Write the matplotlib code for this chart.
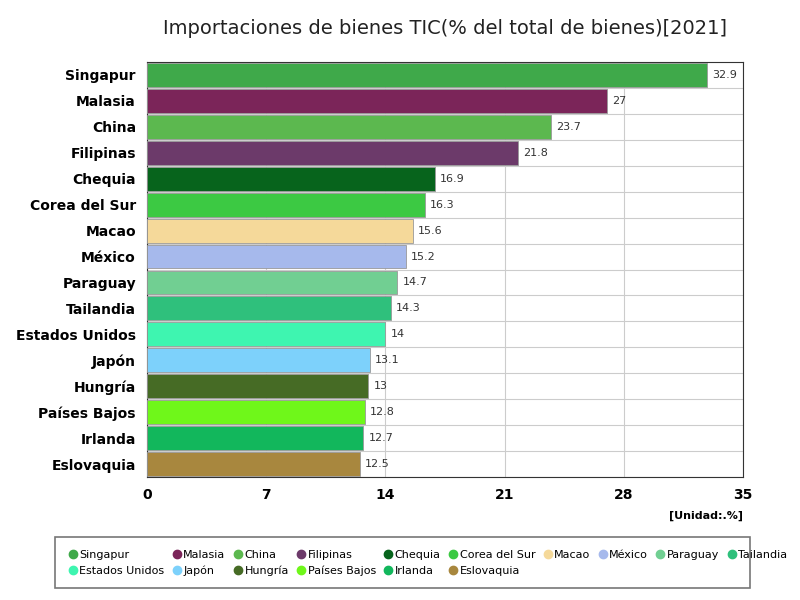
import matplotlib
matplotlib.use("Agg")
import matplotlib.pyplot as plt
from matplotlib.lines import Line2D
from matplotlib.patches import Rectangle

countries = ["Singapur","Malasia","China","Filipinas","Chequia","Corea del Sur","Macao","México",
             "Paraguay","Tailandia","Estados Unidos","Japón","Hungría","Países Bajos","Irlanda","Eslovaquia"]
values = [32.9,27,23.7,21.8,16.9,16.3,15.6,15.2,14.7,14.3,14,13.1,13,12.8,12.7,12.5]
colors = ["#3fa94a","#7b2559","#5cb84f","#6c3a6a","#07641c","#3cc943","#f5d99a","#a6b9ec",
          "#71cf92","#2fc07c","#3ef5b0","#7dd1fb","#466b25","#6ff71a","#12b75c","#a8873e"]
xticks = [0,7,14,21,28,35]

fig = plt.figure(figsize=(8,6), dpi=100)
ax = fig.add_axes([147/800, 1-477/600, (743-147)/800, (477-62)/600])
y = list(range(len(countries)))
ax.barh(y, values, color=colors, height=0.92, edgecolor="#999999", linewidth=0.6, zorder=3)
for yi, v in zip(y, values):
    ax.text(v+0.3, yi, f"{v:g}", va="center", ha="left", fontsize=8, color="#333333", zorder=4)
ax.set_ylim(len(countries)-0.5, -0.5)
ax.set_xlim(0,35)
ax.set_xticks(xticks)
ax.set_xticklabels([str(t) for t in xticks], fontsize=10, fontweight="bold")
ax.set_yticks(y)
ax.set_yticklabels(countries, fontsize=10, fontweight="bold")
ax.tick_params(length=0, pad=8)
ax.xaxis.grid(True, color="#cccccc", linewidth=0.8, zorder=0)
for yi in y:
    ax.axhline(yi+0.5, color="#cccccc", linewidth=0.8, zorder=0)
for s in ax.spines.values():
    s.set_color("#333333")
fig.text(445/800, 1-28/600, "Importaciones de bienes TIC(% del total de bienes)[2021]",
         ha="center", va="center", fontsize=14, color="#222222")
fig.text(743/800, 1-516/600, "[Unidad:.%]", ha="right", va="center", fontsize=8, fontweight="bold")

handles = [Line2D([],[],marker="o",linestyle="",color=c,markersize=6) for c in colors]
order = []
for i in range(6):
    order += [i, 10+i]
order += [6,7,8,9]
leg = fig.legend([handles[i] for i in order], [countries[i] for i in order], ncol=10,
                 loc="upper left", bbox_to_anchor=(57/800, 1-540/600), frameon=False,
                 fontsize=8, handletextpad=0.1, columnspacing=0.6, labelspacing=0.5,
                 handlelength=1)
fig.patches.append(Rectangle((55/800, 1-588/600), 695/800, 51/600, transform=fig.transFigure,
                             fill=False, edgecolor="#777777", linewidth=1.2))
fig.savefig("out.png", dpi=100)
